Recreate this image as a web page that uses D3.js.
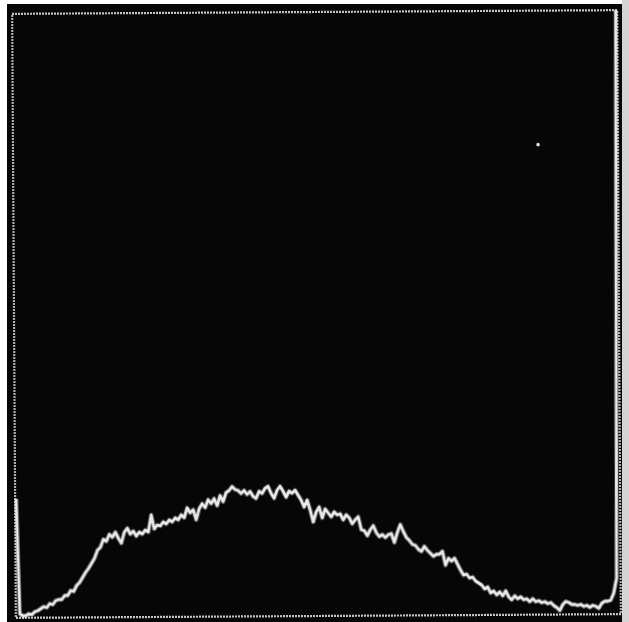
<!DOCTYPE html>
<html>
<head>
<meta charset="utf-8">
<script src="https://cdn.jsdelivr.net/npm/d3@7"></script>
<style>
  html, body { margin: 0; padding: 0; background: #fff; }
  svg { display: block; }
</style>
</head>
<body>
<div id="scope"></div>
<script>
// counts per channel (0 = baseline, 601 = top of screen)
let counts = [
  119, 4, 2, 2, 4, 3, 6, 7, 9, 11,
  10, 14, 13, 17, 18, 18, 22, 22, 27, 26,
  32, 35, 40, 45, 49, 54, 59, 67, 70, 78,
  76, 83, 80, 85, 79, 74, 85, 89, 83, 86,
  81, 85, 83, 87, 85, 102, 88, 92, 91, 95,
  93, 97, 95, 99, 97, 102, 99, 109, 104, 107,
  97, 108, 113, 109, 117, 113, 118, 111, 121, 115,
  124, 126, 130, 127, 126, 123, 126, 122, 125, 120,
  118, 125, 123, 128, 130, 123, 118, 126, 130, 125,
  119, 125, 123, 126, 121, 116, 109, 116, 106, 94,
  104, 109, 98, 107, 103, 99, 104, 101, 102, 96,
  101, 98, 92, 96, 99, 86, 85, 80, 86, 90,
  83, 79, 81, 78, 81, 82, 73, 83, 91, 84,
  78, 75, 71, 70, 66, 64, 69, 65, 62, 59,
  61, 61, 64, 50, 57, 54, 57, 51, 45, 40,
  41, 37, 38, 34, 32, 30, 26, 28, 22, 24,
  20, 23, 19, 24, 18, 15, 19, 16, 18, 15,
  16, 13, 16, 13, 14, 12, 13, 11, 12, 9,
  7, 4, 10, 13, 12, 10, 10, 9, 10, 8,
  9, 7, 9, 8, 6, 11, 13, 13, 14, 21,
  36, 700
];
// stray bright speck on the screen: [channel, count]
let specks = [[174.7, 470]];

let maxCount = 601;

let W = 629, H = 622;
let svg = d3.select("#scope").append("svg")
  .attr("width", W)
  .attr("height", H);

// light strip at the right of the photo
svg.append("rect")
  .attr("x", 0).attr("y", 0)
  .attr("width", W).attr("height", H)
  .style("fill", "#ffffff");
svg.append("rect")
  .attr("x", 622).attr("y", 0)
  .attr("width", 7).attr("height", H)
  .style("fill", "#d4d4d4");
// the screen
svg.append("rect")
  .attr("x", 7).attr("y", 4)
  .attr("width", 615).attr("height", 618)
  .style("fill", "#060606");

//frame box
let fLeft = 14, fRight = 619, fTop = 12, fBottom = 616;

let x = d3.scaleLinear()
  .domain([0, counts.length - 1])
  .range([fLeft + 1, fRight - 1]);
let y = d3.scaleLinear()
  .domain([0, maxCount])
  .range([fBottom, fTop + 3]);

//soft blur, like a photographed phosphor trace
let defs = svg.append("defs");
defs.append("filter")
  .attr("id", "soft")
  .append("feGaussianBlur")
  .attr("stdDeviation", 0.5);

//whole picture is photographed slightly tilted
let g = svg.append("g")
  .attr("transform", "rotate(-0.35," + (fLeft + fRight) / 2 + "," + (fTop + fBottom) / 2 + ")");

g.append("clipPath")
  .attr("id", "screenClip")
  .append("rect")
  .attr("x", fLeft - 1).attr("y", fTop)
  .attr("width", fRight - fLeft + 2).attr("height", fBottom - fTop + 1);

//dotted frame
g.append("rect")
  .attr("x", fLeft).attr("y", fTop)
  .attr("width", fRight - fLeft).attr("height", fBottom - fTop)
  .style("fill", "none")
  .style("stroke", "#e8e8e8")
  .style("stroke-width", 2.2)
  .style("stroke-dasharray", "1.7,1.3");

let line = d3.line()
  .x(function(d, i){ return x(i); })
  .y(function(d){ return y(d); });

let trace = g.append("g").attr("clip-path", "url(#screenClip)");

//glow under the trace
trace.append("path")
  .datum(counts)
  .attr("d", line)
  .style("fill", "none")
  .style("stroke", "#ffffff")
  .style("stroke-opacity", 0.2)
  .style("stroke-width", 5)
  .style("stroke-linejoin", "round");

trace.append("path")
  .datum(counts)
  .attr("d", line)
  .attr("filter", "url(#soft)")
  .style("fill", "none")
  .style("stroke", "#eaeaea")
  .style("stroke-width", 2.8)
  .style("stroke-linejoin", "round");

g.selectAll("circle.speck")
  .data(specks)
  .enter().append("circle")
  .attr("class", "speck")
  .attr("cx", function(d){ return x(d[0]); })
  .attr("cy", function(d){ return y(d[1]); })
  .attr("r", 1.8)
  .style("fill", "#dddddd");
</script>
</body>
</html>
